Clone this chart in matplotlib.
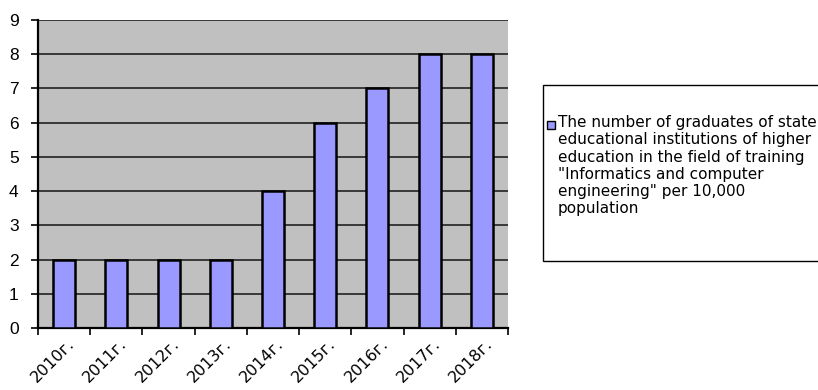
import matplotlib.pyplot as plt
import matplotlib.transforms as mtrans
from matplotlib.patches import Rectangle

years = ["2010г.", "2011г.", "2012г.", "2013г.", "2014г.", "2015г.", "2016г.", "2017г.", "2018г."]
graduates = [2, 2, 2, 2, 4, 6, 7, 8, 8]
legend_text = ("The number of graduates of state\n"
               "educational institutions of higher\n"
               "education in the field of training\n"
               "\"Informatics and computer\n"
               "engineering\" per 10,000\n"
               "population")

plt.rcParams['font.family'] = ['Liberation Sans', 'DejaVu Sans']

fig = plt.figure(figsize=(8.18, 3.9), dpi=100)
ax = fig.add_axes([38 / 818, 1 - 328 / 390, 470 / 818, 308 / 390])
ax.set_facecolor('#C0C0C0')

x = list(range(len(years)))
ax.bar(x, graduates, width=0.42, color='#9999FF', edgecolor='black', linewidth=1.8, zorder=3)

ax.set_xlim(-0.5, len(years) - 0.5)
ax.set_ylim(0, 9)
ax.set_yticks(range(10))
ax.yaxis.grid(True, color='#222222', linewidth=1.2, zorder=1)
ax.tick_params(axis='y', labelsize=12.5, length=5, width=1.2, pad=9)

# category separators as ticks, labels on the centres
ax.set_xticks([i - 0.5 for i in range(len(years) + 1)], minor=True)
ax.set_xticks(x)
ax.set_xticklabels(years, rotation=45, ha='right', rotation_mode='anchor',
                   fontsize=11.5, family=['DejaVu Sans'])
ax.tick_params(axis='x', which='major', length=0, pad=6)
ax.tick_params(axis='x', which='minor', length=5, width=1.2)
offset = mtrans.ScaledTranslation(3 / 100, 0, fig.dpi_scale_trans)
for lbl in ax.get_xticklabels():
    lbl.set_transform(lbl.get_transform() + offset)

for side in ['top', 'right']:
    ax.spines[side].set_visible(False)
ax.spines['left'].set_linewidth(1.6)
ax.spines['bottom'].set_linewidth(1.6)

# legend box, running off the right edge
fig.patches.append(Rectangle((543 / 818, 1 - 261 / 390), 300 / 818, 176 / 390,
                             transform=fig.transFigure, facecolor='white',
                             edgecolor='black', linewidth=1))
fig.patches.append(Rectangle((547 / 818, 1 - 129 / 390), 8 / 818, 8 / 390,
                             transform=fig.transFigure, facecolor='#9999FF',
                             edgecolor='black', linewidth=1))
fig.text(558 / 818, 1 - 115 / 390, legend_text, fontsize=11, va='top', ha='left',
         linespacing=1.19, family=['DejaVu Sans'])

fig.savefig('out.png', dpi=100)
